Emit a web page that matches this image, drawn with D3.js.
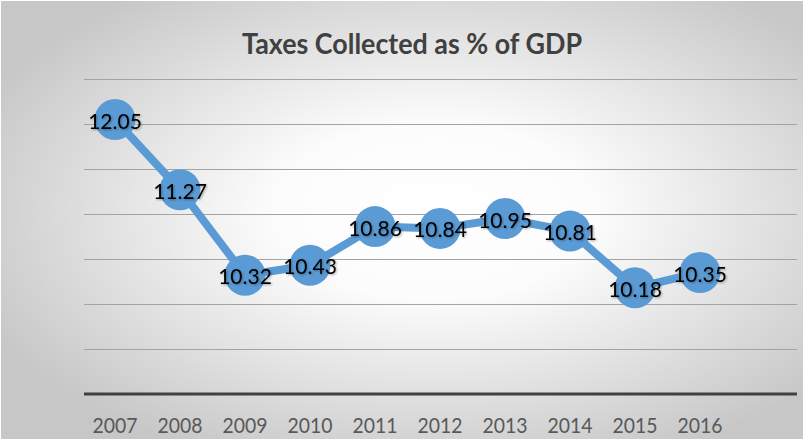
<!DOCTYPE html>
<html>
<head>
<meta charset="utf-8">
<script src="https://cdn.jsdelivr.net/npm/d3@7"></script>
<style>
  html, body { margin: 0; padding: 0; background: #ffffff; }
  svg { display: block; }
</style>
</head>
<body>
<div id="chart"></div>
<script>
// chart data
const years = ["2007", "2008", "2009", "2010", "2011", "2012", "2013", "2014", "2015", "2016"];
const taxShare = [12.05, 11.27, 10.32, 10.43, 10.86, 10.84, 10.95, 10.81, 10.18, 10.35];
const gridValues = [9.5, 10, 10.5, 11, 11.5, 12, 12.5];
const chartTitle = "Taxes Collected as % of GDP";

const width = 803, height = 439;

const svg = d3.select("#chart").append("svg")
    .attr("width", width)
    .attr("height", height);

// background gradient (white centre, grey edges)
let defs = svg.append("defs");
let grad = defs.append("radialGradient")
    .attr("id", "bg-grad")
    .attr("cx", "54%").attr("cy", "48%")
    .attr("r", "62%");
grad.append("stop").attr("offset", "0%").attr("stop-color", "#ffffff");
grad.append("stop").attr("offset", "32%").attr("stop-color", "#fcfcfc");
grad.append("stop").attr("offset", "100%").attr("stop-color", "#c7c7c7");

let shadow = defs.append("filter")
    .attr("id", "label-shadow")
    .attr("x", "-10%").attr("y", "-20%")
    .attr("width", "130%").attr("height", "150%");
shadow.append("feDropShadow")
    .attr("dx", 1).attr("dy", 1)
    .attr("stdDeviation", 0.8)
    .attr("flood-color", "#000")
    .attr("flood-opacity", 0.35);

svg.append("rect")
    .attr("x", 1).attr("y", 1)
    .attr("width", width - 1).attr("height", height - 1)
    .attr("fill", "url(#bg-grad)");

// scales
const x = d3.scaleBand()
    .domain(years)
    .range([82.5, 732.5]);

const y = d3.scaleLinear()
    .domain([9, 12.5])
    .range([394, 79]);

const gridLeft = 84, gridRight = 797;

// gridlines
svg.append("g")
    .selectAll("line")
    .data(gridValues)
    .join("line")
    .attr("x1", gridLeft).attr("x2", gridRight)
    .attr("y1", d => Math.round(y(d)) + 0.5)
    .attr("y2", d => Math.round(y(d)) + 0.5)
    .attr("stroke", "#a3a3a3")
    .attr("stroke-width", 1);

// x axis line
svg.append("line")
    .attr("x1", gridLeft).attr("x2", gridRight)
    .attr("y1", y(9)).attr("y2", y(9))
    .attr("stroke", "#404040")
    .attr("stroke-width", 3);

// year labels
svg.append("g")
    .selectAll("text")
    .data(years)
    .join("text")
    .attr("x", d => x(d) + x.bandwidth() / 2)
    .attr("y", 433)
    .attr("text-anchor", "middle")
    .attr("font-family", "Lato, 'Open Sans', sans-serif")
    .attr("font-size", 22)
    .attr("fill", "#595959")
    .attr("textLength", 45)
    .attr("lengthAdjust", "spacingAndGlyphs")
    .text(d => d);

// title
svg.append("text")
    .attr("x", 412)
    .attr("y", 54)
    .attr("text-anchor", "middle")
    .attr("font-family", "Lato, 'Open Sans', sans-serif")
    .attr("font-weight", "bold")
    .attr("font-size", 29)
    .attr("fill", "#404040")
    .attr("textLength", 340)
    .attr("lengthAdjust", "spacingAndGlyphs")
    .text(chartTitle);

const points = years.map((yr, i) => ({year: yr, value: taxShare[i]}));

// line
const line = d3.line()
    .x(d => x(d.year) + x.bandwidth() / 2)
    .y(d => y(d.value));

svg.append("path")
    .datum(points)
    .attr("fill", "none")
    .attr("stroke", "#5b9bd5")
    .attr("stroke-width", 8)
    .attr("stroke-linejoin", "round")
    .attr("d", line);

// markers
svg.append("g")
    .selectAll("circle")
    .data(points)
    .join("circle")
    .attr("cx", d => x(d.year) + x.bandwidth() / 2)
    .attr("cy", d => y(d.value))
    .attr("r", 20.5)
    .attr("fill", "#5b9bd5");

// data labels
svg.append("g")
    .selectAll("text")
    .data(points)
    .join("text")
    .attr("x", d => x(d.year) + x.bandwidth() / 2)
    .attr("y", d => y(d.value) + 9)
    .attr("text-anchor", "middle")
    .attr("font-family", "Lato, 'Open Sans', sans-serif")
    .attr("font-size", 21)
    .attr("fill", "#000000")
    .attr("filter", "url(#label-shadow)")
    .text(d => d.value.toFixed(2));
</script>
</body>
</html>
